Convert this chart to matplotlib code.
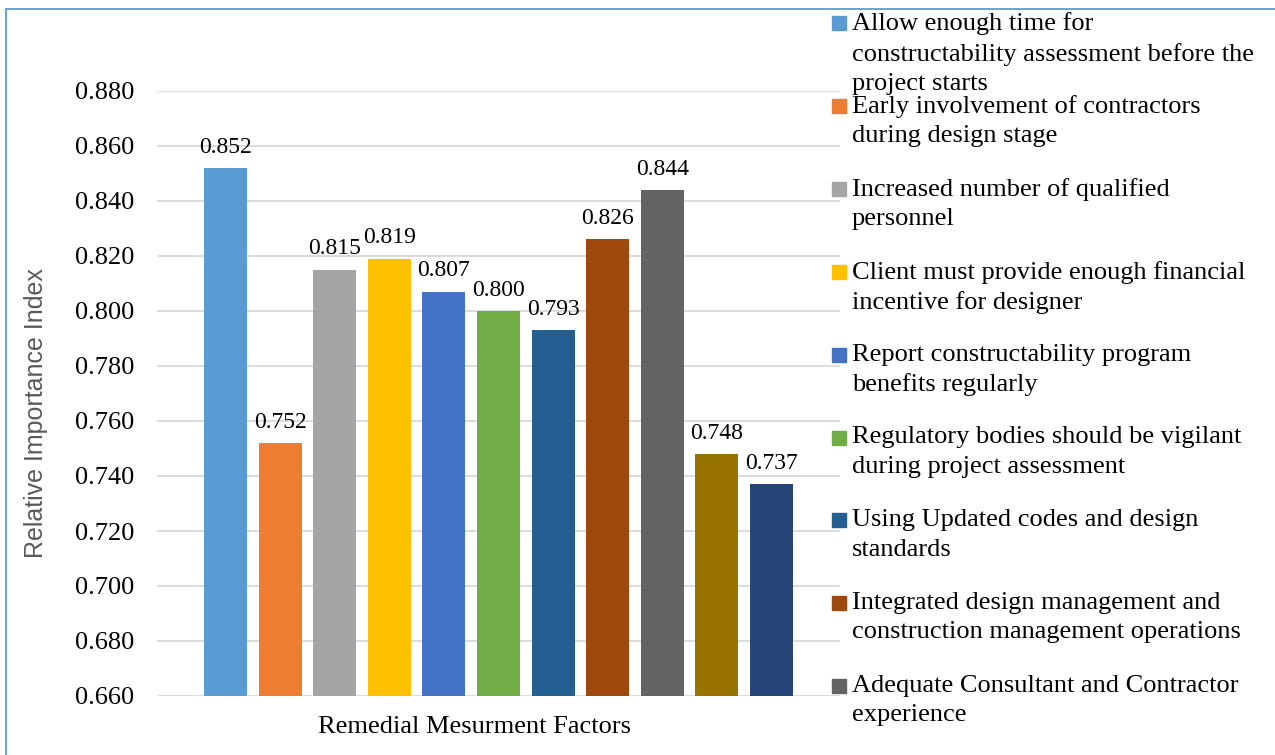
import matplotlib
matplotlib.use("Agg")
import matplotlib.pyplot as plt
from matplotlib.patches import Rectangle

factors = [
    "Allow enough time for\nconstructability assessment before the\nproject starts",
    "Early involvement of contractors\nduring design stage",
    "Increased number of qualified\npersonnel",
    "Client must provide enough financial\nincentive for designer",
    "Report constructability program\nbenefits regularly",
    "Regulatory bodies should be vigilant\nduring project assessment",
    "Using Updated codes and design\nstandards",
    "Integrated design management and\nconstruction management operations",
    "Adequate Consultant and Contractor\nexperience",
    "Factor 10",
    "Factor 11",
]
values = [0.852, 0.752, 0.815, 0.819, 0.807, 0.800, 0.793, 0.826, 0.844, 0.748, 0.737]
colors = ["#5B9BD5", "#ED7D31", "#A5A5A5", "#FFC000", "#4472C4", "#70AD47",
          "#255E91", "#9E480E", "#636363", "#997300", "#264478"]
yticks = [0.660, 0.680, 0.700, 0.720, 0.740, 0.760, 0.780, 0.800, 0.820, 0.840, 0.860, 0.880]
n_legend_visible = 9

W, H = 1275, 755
fig = plt.figure(figsize=(W / 100, H / 100), dpi=100)
serif = ["Liberation Serif", "DejaVu Serif"]

ax = fig.add_axes([157 / W, 1 - 696 / H, (840 - 157) / W, (696 - 91) / H])
xs = list(range(len(values)))
ax.bar(xs, values, width=0.79, color=colors, zorder=2)
ax.set_ylim(0.660, 0.880)
ax.set_xlim(-1.255, len(values) - 1 + 1.255)
ax.set_yticks(yticks)
ax.set_yticklabels([f"{v:.3f}" for v in yticks], fontfamily=serif, fontsize=19)
ax.set_xticks([])
ax.tick_params(axis="y", length=0, pad=16.5)
for s in ax.spines.values():
    s.set_visible(False)
ax.yaxis.grid(True, color="#D9D9D9", linewidth=1.3, zorder=0)
ax.set_axisbelow(True)

for x, v in zip(xs, values):
    ax.annotate(f"{v:.3f}", xy=(x, v), xytext=(0, 11), textcoords="offset points",
                ha="center", va="baseline", fontsize=17, fontfamily=serif)

fig.text(36 / W, 1 - 413 / H, "Relative Importance Index", rotation=90,
         ha="center", va="center", fontsize=18, color="#595959",
         fontfamily=["Liberation Sans", "DejaVu Sans"])
fig.text(475 / W, 1 - 727 / H, "Remedial Mesurment Factors", ha="center", va="center",
         fontsize=19, fontfamily=serif)

# legend (manual, Excel-like overlapping layout)
y0, dy = 23, 82.9
for i in range(n_legend_visible):
    yc = y0 + i * dy
    fig.patches.append(Rectangle((832 / W, 1 - (yc + 7) / H), 14 / W, 14 / H,
                                 transform=fig.transFigure, color=colors[i]))
    fig.text(852 / W, 1 - (yc - 11) / H, factors[i], ha="left", va="top",
             fontsize=19, fontfamily=serif, linespacing=1.42)

# outer border (partly cut off)
fig.patches.append(Rectangle((5.5 / W, -0.5), 2, 1.5 - 9.3 / H, transform=fig.transFigure,
                             fill=False, edgecolor="#5B9BD5", linewidth=1.3))

fig.savefig("out.png", dpi=100)
